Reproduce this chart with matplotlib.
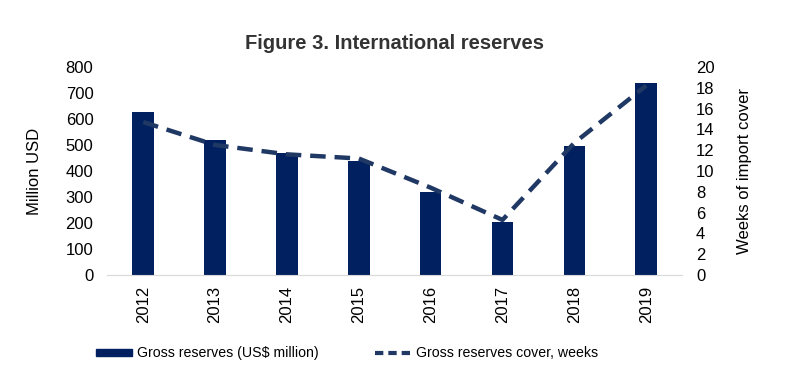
import matplotlib.pyplot as plt
from matplotlib.patches import Patch
from matplotlib.lines import Line2D

years = ['2012', '2013', '2014', '2015', '2016', '2017', '2018', '2019']
gross_reserves = [628, 520, 470, 440, 320, 205, 495, 738]  # US$ million
cover_weeks = [14.7, 12.5, 11.6, 11.2, 8.4, 5.3, 12.7, 18.2]

bar_color = '#002060'
line_color = '#1f3864'

plt.rcParams['font.family'] = ['Liberation Sans', 'DejaVu Sans']

fig = plt.figure(figsize=(7.95, 3.8), dpi=100)
ax1 = fig.add_axes([0.135, 0.276, 0.723, 0.548])
x = list(range(len(years)))

ax1.bar(x, gross_reserves, width=0.3, color=bar_color, zorder=2)
ax1.set_xlim(-0.5, len(years) - 0.5)
ax1.set_ylim(0, 800)
ax1.set_yticks(range(0, 801, 100))
ax1.set_xticks(x)
ax1.set_xticklabels(years, rotation=90, fontsize=12)
ax1.tick_params(axis='y', labelsize=12, length=0, pad=10)
ax1.tick_params(axis='x', length=0, pad=8)
ax1.set_ylabel('Million USD', fontsize=12, labelpad=17)
for s in ['top', 'left', 'right']:
    ax1.spines[s].set_visible(False)
ax1.spines['bottom'].set_color('#d9d9d9')

ax2 = ax1.twinx()
ax2.plot(x, cover_weeks, color=line_color, linewidth=3.2, linestyle=(0, (3.5, 2)), zorder=3)
ax2.set_ylim(0, 20)
ax2.set_yticks(range(0, 21, 2))
ax2.tick_params(axis='y', labelsize=12, length=0, pad=10)
ax2.set_ylabel('Weeks of import cover', fontsize=12, labelpad=16)
for s in ['top', 'left', 'right', 'bottom']:
    ax2.spines[s].set_visible(False)

fig.suptitle('Figure 3. International reserves', fontsize=14.5, fontweight='bold',
             color='#333333', x=0.496, y=0.91)

handles = [Patch(color=bar_color), Line2D([0], [0], color=line_color, lw=3, linestyle=(0, (2, 1.2)))]
labels = ['Gross reserves (US$ million)', 'Gross reserves cover, weeks']
fig.legend(handles, labels, loc='center left', bbox_to_anchor=(0.105, 0.07), ncol=2, frameon=False,
           fontsize=10.2, handlelength=2.5, handleheight=0.45, columnspacing=4.0, handletextpad=0.36)

fig.savefig('out.png', dpi=100)
